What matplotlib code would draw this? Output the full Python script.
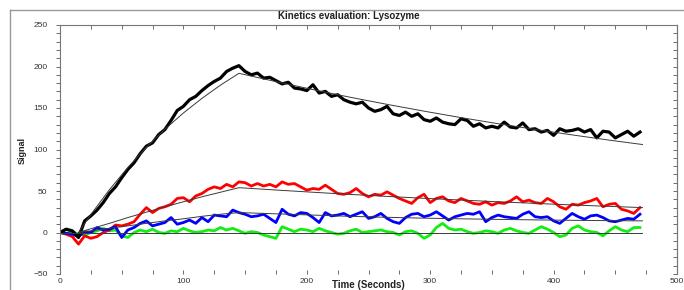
import numpy as np
import matplotlib
matplotlib.use("Agg")
import matplotlib.pyplot as plt
from matplotlib.lines import Line2D
from matplotlib.ticker import MultipleLocator

plt.rcParams['font.family'] = ['Liberation Sans', 'DejaVu Sans']

# sampled time points (seconds)
t = np.arange(0, 471, 5)

black = [0, 4, 2, -6, 14, 20, 27, 36, 47, 55,
         66, 76, 84, 95, 104, 108, 118, 124, 135, 147,
         152, 160, 164, 171, 177, 182, 186, 194, 198, 201,
         194, 190, 192, 186, 187, 183, 179, 181, 174, 173,
         171, 178, 168, 170, 164, 166, 160, 157, 155, 157,
         150, 146, 148, 152, 143, 141, 145, 140, 143, 136,
         134, 138, 133, 131, 130, 137, 135, 128, 131, 126,
         128, 126, 133, 127, 126, 132, 124, 125, 121, 123,
         117, 125, 122, 123, 125, 121, 124, 114, 122, 121,
         114, 118, 122, 116, 121]

red = [0, -2, -5, -14, -4, -7, -5, 0, 3, 9,
       8, 10, 13, 22, 30, 24, 29, 31, 34, 41,
       42, 37, 44, 47, 52, 55, 53, 58, 55, 61,
       60, 56, 59, 56, 58, 55, 61, 58, 59, 55,
       51, 53, 52, 57, 52, 47, 46, 48, 53, 47,
       43, 46, 45, 49, 45, 41, 38, 35, 42, 46,
       36, 41, 43, 38, 36, 41, 38, 35, 34, 37,
       33, 36, 35, 38, 43, 37, 39, 36, 35, 41,
       37, 31, 28, 34, 33, 36, 38, 41, 31, 34,
       35, 28, 26, 23, 30]

blue = [0, -1, -2, -5, 1, 0, 6, 3, 4, 7,
        -6, 3, 6, 11, 14, 8, 10, 12, 18, 10,
        12, 15, 11, 18, 13, 21, 20, 19, 27, 24,
        22, 19, 20, 22, 17, 12, 28, 22, 20, 24,
        23, 18, 12, 24, 20, 21, 23, 19, 22, 25,
        17, 19, 23, 17, 13, 11, 18, 22, 23, 19,
        21, 25, 20, 15, 19, 21, 23, 22, 25, 13,
        18, 21, 19, 18, 17, 22, 25, 19, 18, 19,
        14, 11, 17, 23, 19, 16, 20, 21, 18, 14,
        13, 15, 17, 16, 22]

green = [0, -1, 1, -2, -3, 0, 2, 5, 2, 3,
         -4, -6, 0, 3, 1, 4, 0, -1, 2, 1,
         5, 2, 0, 1, 3, 2, 6, 3, 5, 2,
         -1, 1, 0, -3, -5, -7, 7, 4, 1, 4,
         3, 1, 5, 2, 0, -2, -1, 2, 4, 0,
         1, 2, 3, 1, 0, -3, 1, 2, -1, -7,
         -3, 6, 11, 5, 3, 4, 1, -1, 0, 2,
         1, -1, 3, 5, 2, 0, -1, 3, 7, 4,
         0, -5, -3, 5, 8, 3, 1, 0, -4, 2,
         7, 3, 1, 6, 6]

# fitted curves
fit_t = [15, 25, 40, 55, 70, 85, 100, 115, 130, 145, 175, 205, 235, 265, 295, 325, 355, 385, 415, 445, 472]
black_fit = [0, 21.7, 51.5, 78.4, 102.6, 124.4, 144, 161.6, 177.5, 191.8, 181.8, 172.2, 163, 154.4, 146.2, 138.4, 131.1, 124.2, 117.6, 111.3, 106]
red_fit = [0, 4.5, 11, 18, 24.5, 31, 37, 43, 48.5, 54, 51.2, 48.5, 45.9, 43.5, 41.2, 39.1, 37, 35.1, 33.2, 31.5, 30]
blue_fit = [0, 2, 5, 8, 11, 14, 16.5, 19.5, 22, 24, 22.5, 21, 19.5, 18.3, 17.3, 16.5, 15.8, 15.2, 14.7, 14.3, 14]
green_fit_t = [0, 472]
green_fit = [0, 0]

fig = plt.figure(figsize=(6.84, 2.9), dpi=100)
ax = fig.add_axes([60/684, 1 - 274/290, 617/684, 249/290])

ax.plot(t, green, color="#11ee11", lw=2.0)
ax.plot(t, red, color="#ff0000", lw=2.0)
ax.plot(t, blue, color="#0000ff", lw=2.0)
ax.plot(t, black, color="black", lw=2.3)

fc = "#3a3a3a"
ax.plot(green_fit_t, green_fit, color=fc, lw=0.7)
ax.plot(fit_t, red_fit, color=fc, lw=0.7)
ax.plot(fit_t, blue_fit, color=fc, lw=0.7)
ax.plot(fit_t, black_fit, color=fc, lw=0.7)

ax.set_xlim(0, 500)
ax.set_ylim(-50, 250)
ax.xaxis.set_major_locator(MultipleLocator(100))
ax.xaxis.set_minor_locator(MultipleLocator(25))
ax.yaxis.set_major_locator(MultipleLocator(50))
ax.yaxis.set_minor_locator(MultipleLocator(10))

ax.spines['bottom'].set_visible(False)
for s in ['left', 'top', 'right']:
    ax.spines[s].set_color('#777777')
    ax.spines[s].set_linewidth(0.8)

ax.tick_params(axis='x', which='both', top=True, bottom=True, direction='in',
               length=3, width=0.6, color='#555555', labelsize=6, labelcolor='#333333', pad=3)
ax.tick_params(axis='y', which='both', left=True, right=False, direction='out',
               length=3, width=0.6, color='#555555', labelsize=6, labelcolor='#333333', pad=6)

sec = ax.secondary_yaxis('right')
sec.yaxis.set_major_locator(MultipleLocator(50))
sec.yaxis.set_minor_locator(MultipleLocator(10))
sec.tick_params(axis='y', which='both', direction='in', length=3, width=0.6,
                color='#555555', labelright=False)
sec.spines['right'].set_color('#777777')

fig.text(349/684, 1 - 16/290, "Kinetics evaluation: Lysozyme", ha='center', va='center',
         fontsize=7, fontweight='bold', color='#222222')
fig.text(368/684, 1 - 285/290, "Time (Seconds)", ha='center', va='center',
         fontsize=7, fontweight='bold', color='#222222')
fig.text(22/684, 1 - 150/290, "Signal", ha='center', va='center', rotation=90,
         fontsize=6.5, fontweight='bold', color='#222222')

# outer frame of the window
fig.add_artist(Line2D([10/684, 10/684], [0, 1 - 10/290], color='#999999', lw=1))
fig.add_artist(Line2D([10/684, 1], [1 - 10/290, 1 - 10/290], color='#999999', lw=1))

fig.savefig("out.png", dpi=100)
